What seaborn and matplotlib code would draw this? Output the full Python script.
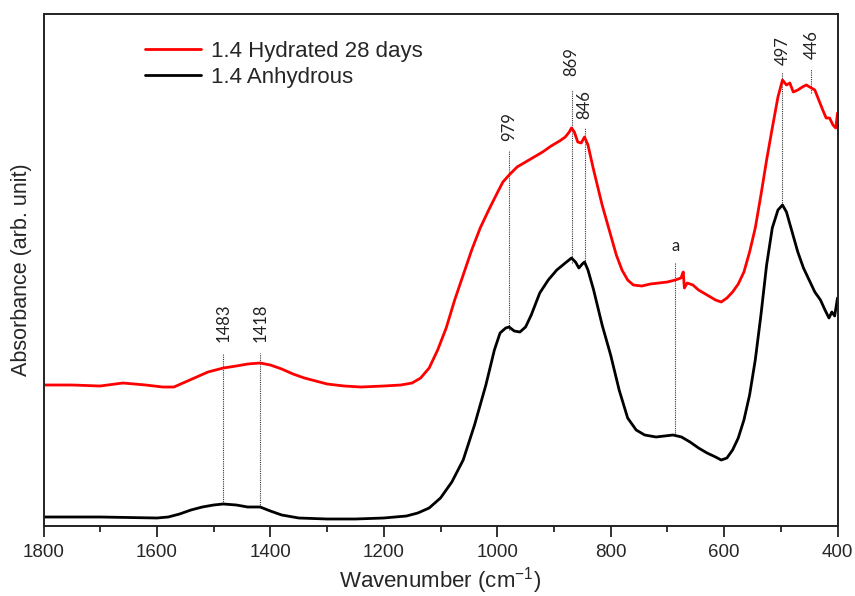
import numpy as np
import pandas as pd
import matplotlib
matplotlib.use("Agg")
import matplotlib.pyplot as plt
from matplotlib.ticker import MultipleLocator
import seaborn as sns

# ---- data (wavenumber in cm-1, absorbance in arbitrary units) ----
anh_wn = [1800, 1700, 1600, 1580, 1560, 1540, 1520, 1500, 1483, 1460, 1440, 1418, 1400, 1380,
          1350, 1300, 1250, 1200, 1160, 1140, 1120, 1100, 1080, 1060, 1040, 1020, 1005, 995,
          985, 979, 970, 960, 950, 940, 925, 910, 895, 880, 869, 862, 856, 850, 846, 840, 830,
          815, 800, 785, 770, 755, 740, 720, 705, 690, 675, 660, 645, 630, 615, 605, 595, 585,
          575, 565, 555, 545, 535, 525, 515, 505, 497, 490, 480, 470, 460, 450, 440, 430, 422,
          415, 410, 405, 400]
anh_abs = [9, 9, 8, 9, 12, 16, 19, 21, 22, 21, 19, 19, 15, 11,
           8, 7, 7, 8, 10, 13, 18, 28, 44, 66, 101, 141, 176, 193,
           198, 199, 195, 194, 199, 211, 233, 246, 256, 263, 268, 264, 258, 262, 264, 256, 236,
           201, 171, 136, 108, 96, 91, 89, 90, 91, 89, 84, 78, 73, 69, 66, 68, 76,
           88, 106, 131, 166, 211, 261, 298, 316, 321, 314, 294, 274, 258, 246, 234, 226, 216,
           208, 214, 210, 228]

hyd_wn = [1800, 1750, 1700, 1660, 1620, 1590, 1570, 1550, 1530, 1510, 1483, 1460, 1440, 1418,
          1400, 1380, 1360, 1340, 1320, 1300, 1270, 1240, 1200, 1170, 1150, 1135, 1120, 1105,
          1090, 1075, 1060, 1045, 1030, 1015, 1000, 990, 979, 965, 950, 935, 920, 905, 890,
          880, 873, 869, 864, 858, 852, 846, 840, 830, 815, 800, 790, 780, 770, 760, 745, 730,
          715, 700, 686, 676, 672, 670, 665, 655, 645, 630, 615, 605, 595, 585, 575, 565, 555,
          545, 535, 525, 515, 505, 497, 490, 484, 478, 470, 462, 455, 446, 440, 433, 426, 420,
          414, 408, 403, 400]
hyd_abs = [141, 141, 140, 143, 141, 139, 139, 144, 149, 154, 158, 160, 162, 163,
           161, 157, 152, 148, 145, 142, 140, 139, 140, 141, 143, 148, 158, 176,
           198, 226, 251, 276, 298, 316, 333, 344, 351, 359, 364, 369, 374, 380, 385,
           389, 394, 398, 394, 384, 383, 389, 381, 356, 321, 291, 271, 256, 246, 241, 240, 242,
           243, 244, 246, 248, 254, 238, 243, 241, 236, 231, 226, 224, 228, 234, 242, 254, 274,
           298, 331, 366, 398, 429, 446, 441, 443, 434, 436, 439, 441, 438, 436, 426, 416, 408,
           408, 401, 398, 413]

series_names = ["1.4 Hydrated 28 days", "1.4 Anhydrous"]

# peak annotations
peak_wn = [1483, 1418, 979, 869, 846, 686, 497, 446]
peak_text = ["1483", "1418", "979", "869", "846", "a", "497", "446"]
peak_line_top = [173, 173, 375, 436, 398, 263, 454, 457]
peak_line_bottom = [22, 19, 196, 263, 261, 93, 321, 433]
peak_label_y = [184, 184, 385, 450, 407, 272, 461, 467]
peak_rot = [90, 90, 90, 90, 90, 0, 90, 90]

# ---- build tidy table ----
df = pd.concat([
    pd.DataFrame({"wn": hyd_wn, "abs": hyd_abs, "sample": series_names[0]}),
    pd.DataFrame({"wn": anh_wn, "abs": anh_abs, "sample": series_names[1]}),
], ignore_index=True)

sns.set_style("ticks")
plt.rcParams["font.family"] = ["Liberation Sans", "DejaVu Sans"]

fig = plt.figure(figsize=(8.55, 5.96), dpi=100)
ax = fig.add_axes([43.5 / 855, 70 / 596, 794 / 855, 512 / 596])

sns.lineplot(data=df, x="wn", y="abs", hue="sample", hue_order=series_names,
             palette=["#ff0000", "#000000"], linewidth=2.0, ax=ax, sort=True,
             estimator=None)

for wn, txt, top, bot, ly, rot in zip(peak_wn, peak_text, peak_line_top,
                                       peak_line_bottom, peak_label_y, peak_rot):
    ax.plot([wn, wn], [bot, top], color="#333333", lw=0.8, ls=(0, (1, 1)), zorder=1)
    ax.text(wn, ly, txt, rotation=rot, ha="center", va="bottom", fontsize=12,
            family=["Lato", "DejaVu Sans"], color="#222222")

ax.set_xlim(1800, 400)
ax.set_ylim(0, 512)
ax.xaxis.set_major_locator(MultipleLocator(200))
ax.xaxis.set_minor_locator(MultipleLocator(100))
ax.set_yticks([])
ax.tick_params(axis="x", which="major", direction="out", length=8, width=1.2,
               labelsize=13.5, pad=5, color="#111111")
ax.tick_params(axis="x", which="minor", direction="out", length=4.5, width=1.2,
               color="#111111")
for s in ax.spines.values():
    s.set_visible(True)
    s.set_linewidth(1.4)
    s.set_color("#222222")

ax.set_xlabel("Wavenumber (cm$^{\\mathregular{-1}}$)", fontsize=16, labelpad=3)
ax.set_ylabel("Absorbance (arb. unit)", fontsize=15.5, labelpad=8)

leg = ax.legend(loc="upper left", bbox_to_anchor=(0.128, 0.948), frameon=False,
                fontsize=16, handlelength=2.5, handletextpad=0.45, labelspacing=0.25,
                borderpad=0, borderaxespad=0)
for line in leg.get_lines():
    line.set_linewidth(2.0)

fig.savefig("out.png", dpi=100)
